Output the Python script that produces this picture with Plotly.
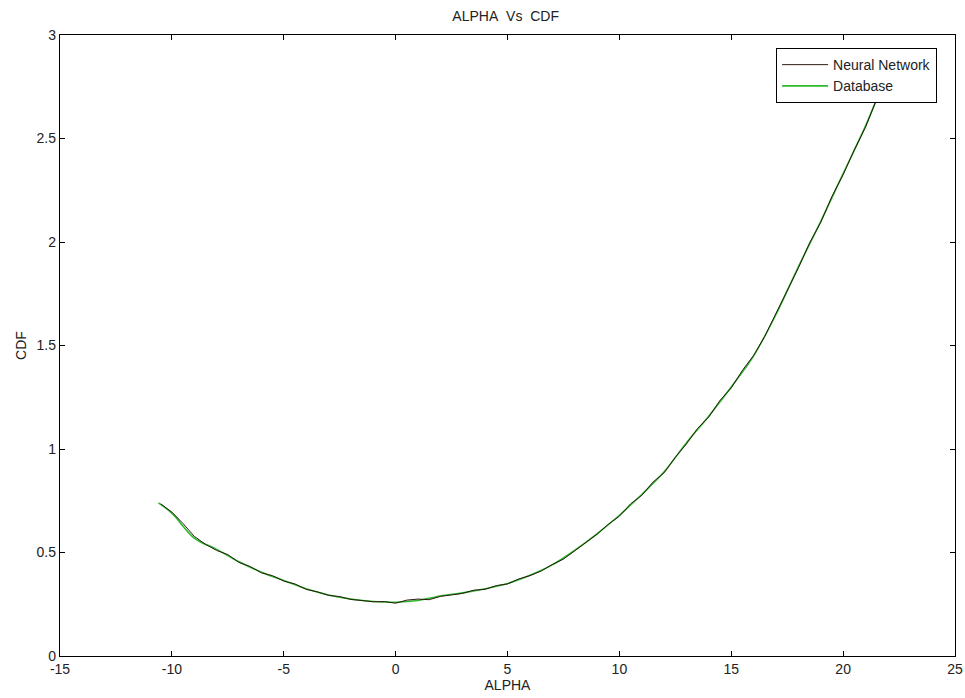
import plotly.graph_objects as go

# Database (reference curve)
db_alpha = [-10.6, -10, -9, -8, -7, -6, -5, -4, -3, -2, -1, 0, 1, 2, 3, 4, 5, 6, 7, 8,
            9, 10, 11, 12, 13, 14, 15, 16, 17, 18, 19, 20, 21, 21.5]
db_cdf = [0.74, 0.69, 0.57, 0.515, 0.455, 0.405, 0.365, 0.325, 0.295, 0.275, 0.263, 0.26,
          0.268, 0.29, 0.305, 0.325, 0.35, 0.39, 0.44, 0.51, 0.59, 0.68, 0.78, 0.89, 1.03,
          1.16, 1.30, 1.45, 1.65, 1.88, 2.10, 2.33, 2.56, 2.69]

# Neural network output
nn_alpha = [-10.5, -10.0, -9.5, -9.0, -8.5, -8.0, -7.5, -7.0, -6.5, -6.0, -5.5, -5.0, -4.5,
            -4.0, -3.5, -3.0, -2.5, -2.0, -1.5, -1.0, -0.5, 0.0, 0.5, 1.0, 1.5, 2.0, 2.5,
            3.0, 3.5, 4.0, 4.5, 5.0, 5.5, 6.0, 6.5, 7.0, 7.5, 8.0, 8.5, 9.0, 9.5, 10.0,
            10.5, 11.0, 11.5, 12.0, 12.5, 13.0, 13.5, 14.0, 14.5, 15.0, 15.5, 16.0, 16.5,
            17.0, 17.5, 18.0, 18.5, 19.0, 19.5, 20.0, 20.5, 21.0, 21.5]
nn_cdf = [0.735, 0.695, 0.64, 0.578, 0.54, 0.51, 0.49, 0.452, 0.432, 0.402, 0.388, 0.362,
          0.348, 0.322, 0.31, 0.293, 0.287, 0.273, 0.268, 0.262, 0.263, 0.255, 0.27, 0.275,
          0.272, 0.288, 0.295, 0.303, 0.318, 0.322, 0.34, 0.348, 0.372, 0.388, 0.41, 0.442,
          0.468, 0.508, 0.548, 0.588, 0.636, 0.675, 0.735, 0.776, 0.84, 0.885, 0.96, 1.025,
          1.10, 1.155, 1.235, 1.295, 1.38, 1.452, 1.545, 1.655, 1.76, 1.875, 1.995, 2.095,
          2.22, 2.325, 2.445, 2.555, 2.69]

x_ticks = [-15, -10, -5, 0, 5, 10, 15, 20, 25]
y_ticks = [0, 0.5, 1, 1.5, 2, 2.5, 3]

FONT = "Liberation Sans, Arial, sans-serif"
FS = 14

fig = go.Figure()
fig.add_trace(go.Scatter(x=db_alpha, y=db_cdf, mode="lines", name="Database",
                         line=dict(color="#2db82d", width=1.6, shape="spline")))
fig.add_trace(go.Scatter(x=nn_alpha, y=nn_cdf, mode="lines", name="Neural Network",
                         line=dict(color="#2a1a10", width=1)))

axis_common = dict(showgrid=False, zeroline=False, showline=True, linecolor="black",
                   linewidth=1.3, mirror="ticks", ticks="inside", ticklen=5,
                   tickcolor="black", automargin=False,
                   tickfont=dict(family=FONT, size=FS, color="#222"))

fig.update_layout(
    width=965, height=698,
    margin=dict(l=60, r=10, t=35, b=42),
    paper_bgcolor="white", plot_bgcolor="white",
    title=dict(text="ALPHA\u00a0\u00a0Vs\u00a0\u00a0CDF", x=0.524, xanchor="center", y=0.977,
               yanchor="middle", font=dict(family=FONT, size=FS, color="#222")),
    xaxis=dict(range=[-15, 25], tickvals=x_ticks, ticktext=[str(v) for v in x_ticks],
               title=dict(text="ALPHA", font=dict(family=FONT, size=FS, color="#222"), standoff=2),
               **axis_common),
    yaxis=dict(range=[0, 3], tickvals=y_ticks, ticktext=["0", "0.5", "1", "1.5", "2", "2.5", "3"],
               title=dict(text="CDF", font=dict(family=FONT, size=FS, color="#222"), standoff=6),
               **axis_common),
    legend=dict(x=0.98, y=0.979, xanchor="right", yanchor="top", traceorder="reversed",
                bgcolor="white", bordercolor="black", borderwidth=1,
                font=dict(family=FONT, size=FS, color="#222"),
                itemwidth=46, tracegroupgap=0),
    showlegend=True,
)

fig.write_html("out.html")
